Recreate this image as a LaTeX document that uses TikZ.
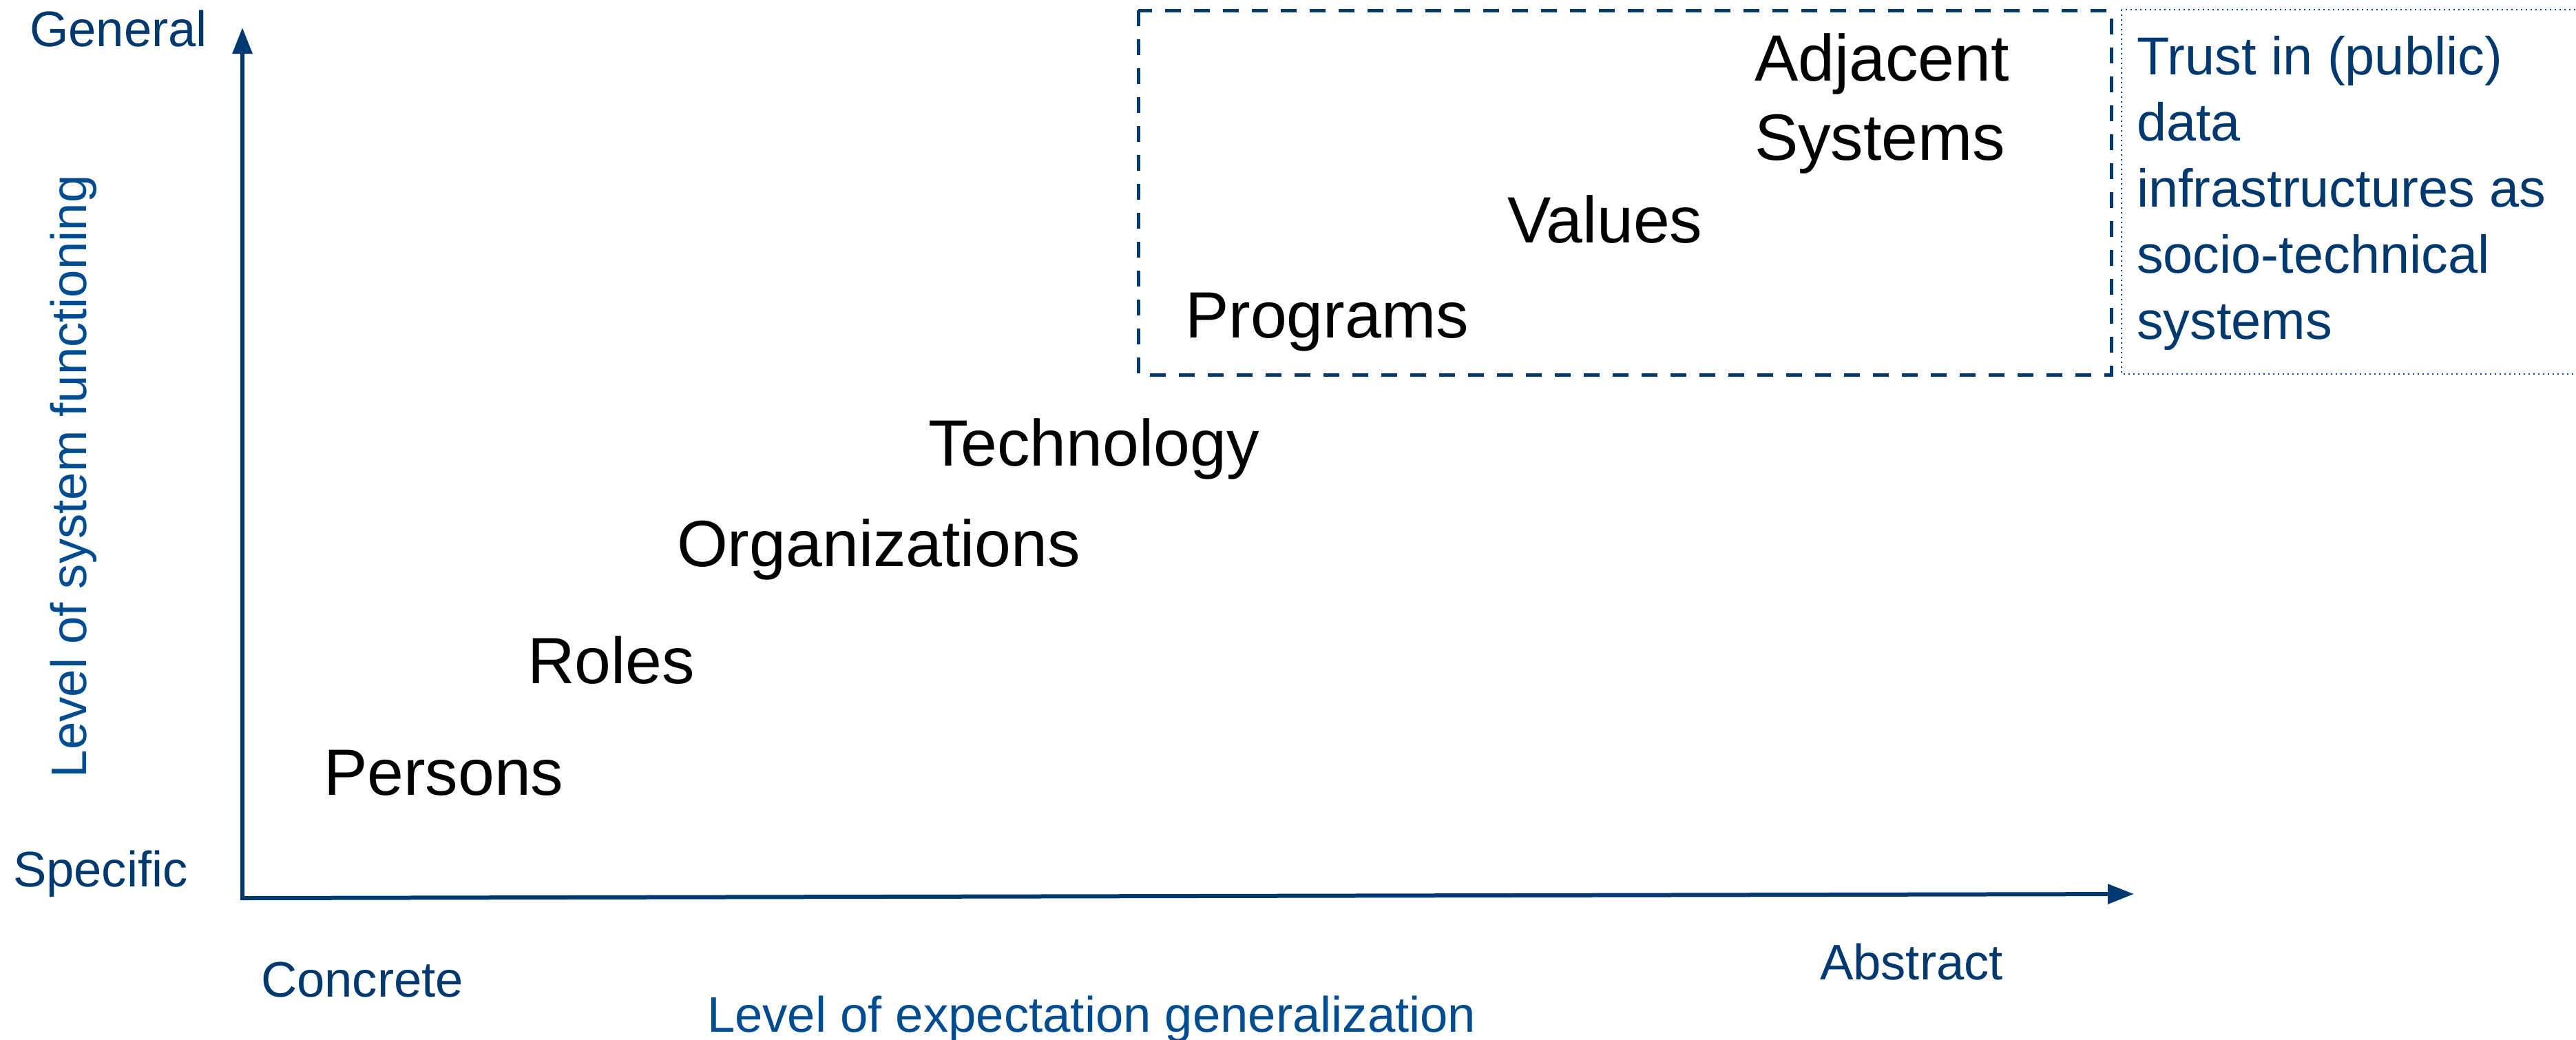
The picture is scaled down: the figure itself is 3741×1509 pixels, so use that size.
\documentclass[tikz,border=0pt]{standalone}
\usepackage{fontspec}
\setmainfont{Liberation Sans}
\usetikzlibrary{arrows.meta}
\definecolor{navy}{RGB}{0,56,112}
\definecolor{midblue}{RGB}{0,76,147}
\begin{document}
\begin{tikzpicture}[x=0.2pt,y=-0.2pt,
  axislbl/.style={text=navy,font=\fontsize{14.5}{17}\selectfont,inner sep=0pt,anchor=base west},
  titlelbl/.style={text=midblue,font=\fontsize{14.5}{17}\selectfont,inner sep=0pt,anchor=base west},
  levellbl/.style={text=black,font=\fontsize{19}{23}\selectfont,inner sep=0pt,anchor=base west,align=left},
  trustlbl/.style={text=navy,font=\fontsize{15.5}{19.2}\selectfont,inner sep=0pt,anchor=base west,align=left},
  axisline/.style={draw=navy,line width=1.2pt,line join=miter,
    {Triangle[length=7.6pt,width=5.6pt]}-{Triangle[length=7.6pt,width=5.6pt]}},
  dashbox/.style={draw=navy,line width=1pt,dash pattern=on 4.6pt off 3.8pt},
  dotbox/.style={draw=midblue,line width=0.4pt,dash pattern=on 0.4pt off 1pt},
]
\useasboundingbox (0,0) rectangle (3741,1509);
\clip (0,0) rectangle (3741,1509);
% axes
\coordinate (O) at (352,1304);
\coordinate (ytop) at (352,40);
\coordinate (xend) at (3099,1298);
\draw[axisline] (ytop) -- (O) -- (xend);
% boxes
\draw[dashbox] (1653,15) rectangle (3066,544);
\draw[dotbox] (3081,14) rectangle (3760,543);
% axis labels
\node[axislbl] (general) at (42,67) {General};
\node[axislbl] (specific) at (18,1287) {Specific};
\node[axislbl] (concrete) at (378,1447) {Concrete};
\node[axislbl] (abstract) at (2642,1422) {Abstract};
\node[titlelbl] (xtitle) at (1026,1498) {Level of expectation generalization};
\node[titlelbl,rotate=90] (ytitle) at (125,1130) {Level of system functioning};
% levels
\node[levellbl] (persons) at (469,1154) {Persons};
\node[levellbl] (roles) at (765,992) {Roles};
\node[levellbl] (orgs) at (982,822) {Organizations};
\node[levellbl] (tech) at (1347,676) {Technology};
\node[levellbl] (programs) at (1720,490) {Programs};
\node[levellbl] (values) at (2188,352) {Values};
\node[levellbl] (adjacent) at (2547,232) {Adjacent\\Systems};
% side note
\node[trustlbl] (trust) at (3102,492) {Trust in (public)\\data\\infrastructures as\\socio-technical\\systems};
\end{tikzpicture}
\end{document}
